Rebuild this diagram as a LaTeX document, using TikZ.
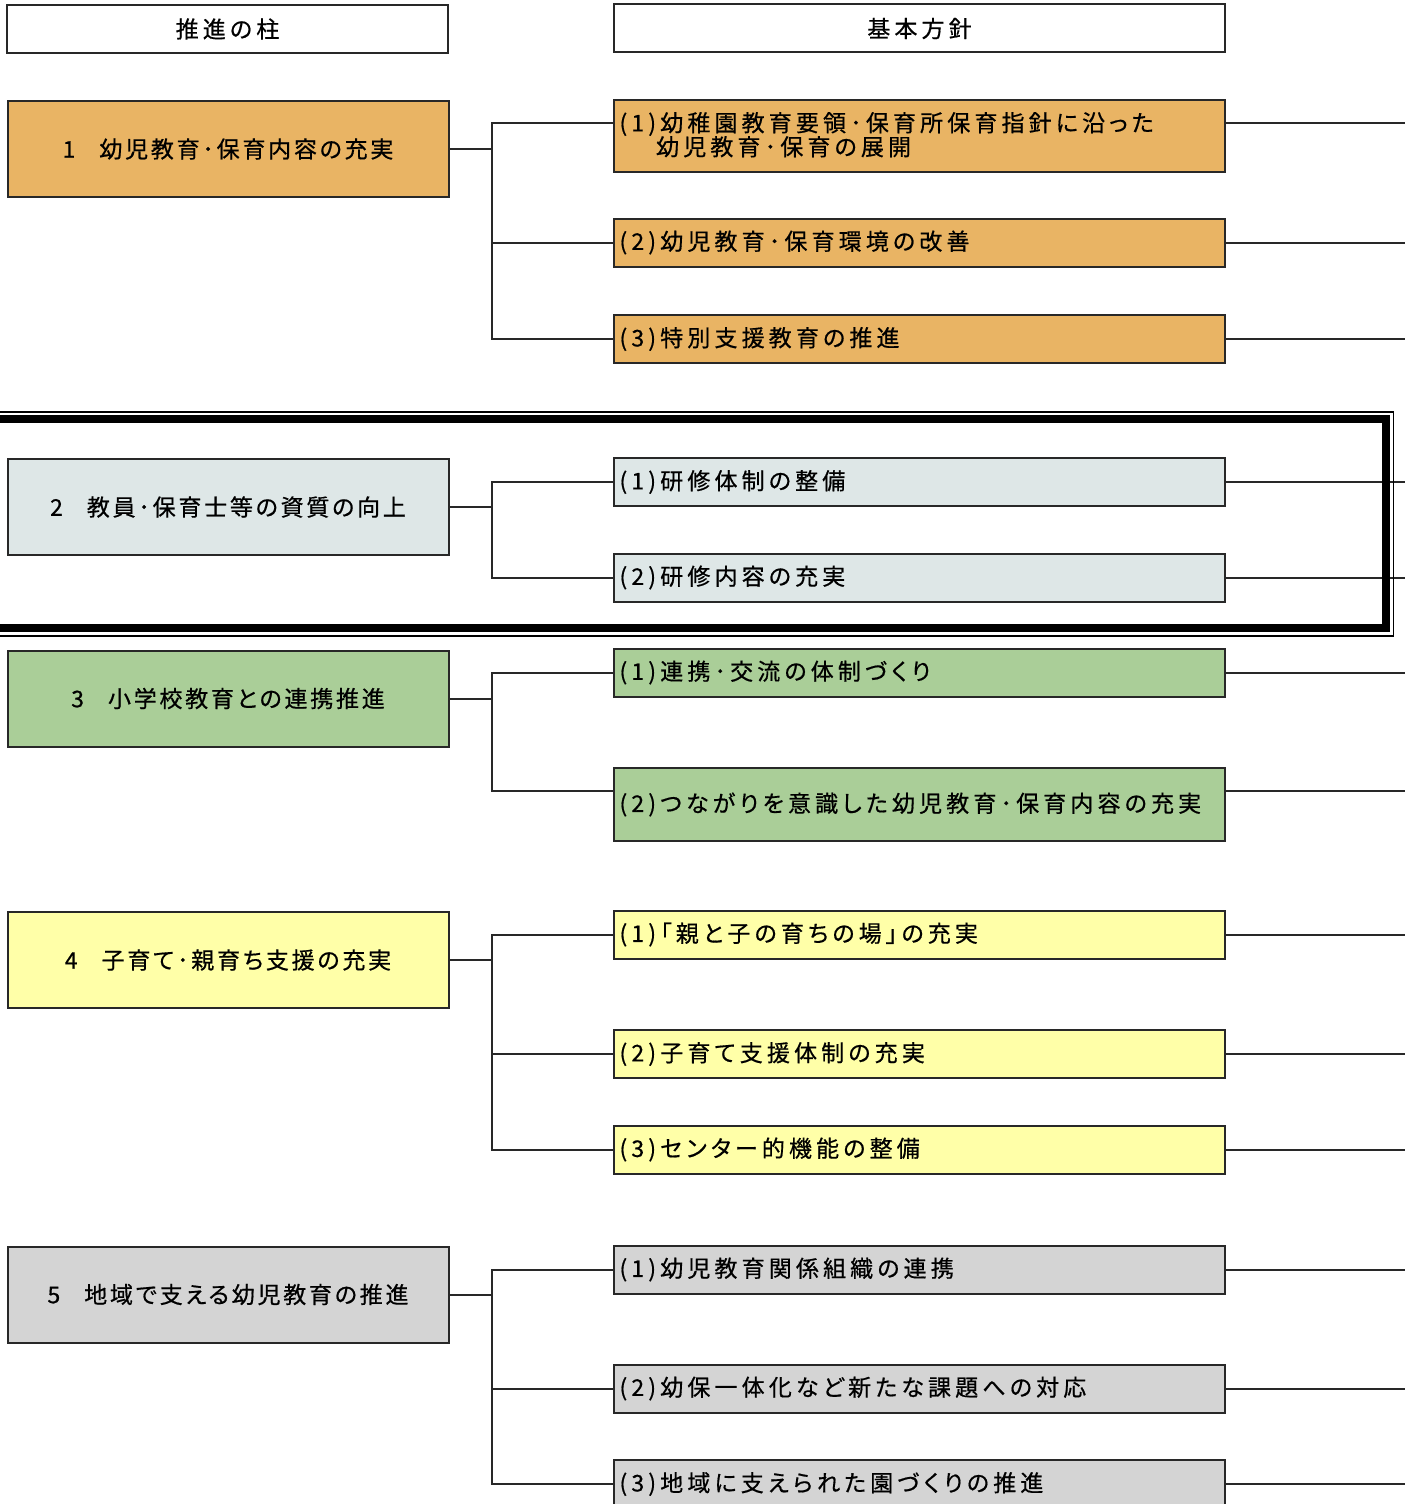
\documentclass[tikz,border=0pt]{standalone}
\usepackage{fontspec}
\setmainfont{Noto Sans CJK JP}[LetterSpace=18, RawFeature=+palt, FakeBold=0.6]
\newfontfamily\pillarfont{Noto Sans CJK JP}[LetterSpace=12, RawFeature=+palt, FakeBold=0.6]
\usetikzlibrary{calc, positioning}
\definecolor{boxline}{RGB}{40,40,40}
\definecolor{orangefill}{RGB}{233,180,100}
\definecolor{bluefill}{RGB}{222,231,231}
\definecolor{greenfill}{RGB}{170,206,152}
\definecolor{yellowfill}{RGB}{255,255,168}
\definecolor{grayfill}{RGB}{212,212,212}
\newcommand{\numgap}{\hspace{12pt}}
\tikzset{
    head_node/.style={rectangle, draw=boxline, line width=1pt, fill=white, minimum width=220.5pt, minimum height=24pt, text centered, align=center, inner sep=0pt, font=\fontsize{11.5pt}{12pt}\selectfont},
    pillar_node/.style={rectangle, draw=boxline, line width=1pt, minimum width=220.5pt, minimum height=48pt, text centered, align=center, inner sep=0pt, font=\pillarfont\fontsize{11.5pt}{12pt}\selectfont},
    policy_node/.style={rectangle, draw=boxline, line width=1pt, text width=300pt, minimum height=24pt, align=left, inner xsep=2.75pt, inner ysep=0pt, font=\fontsize{11.5pt}{12pt}\selectfont},
    line/.style={draw=boxline, line width=1pt},
    frame_thick/.style={draw=black, line width=3.6pt},
    frame_thin/.style={draw=black, line width=0.8pt},
}
\begin{document}
\begin{tikzpicture}[x=0.5pt, y=-0.5pt]
      \useasboundingbox (0,0) rectangle (1405,1504);
      \clip (0,0) rectangle (1405,1504);
      \coordinate (bus) at (492,0);
      \coordinate (edge) at (1405,0);

      %%%%%%%%%%%
      % Headers %
      %%%%%%%%%%%
      \node (head_pillar) [head_node] at (227.5,29) {推進の柱};
      \node (head_policy) [head_node, minimum width=305.5pt] at (919.5,28.5) {基本方針};

      %%%%%%%%%%%%
      % Pillar 1 %
      %%%%%%%%%%%%
      \node (pil1) [pillar_node, fill=orangefill] at (228,149)
          {1\numgap 幼児教育･保育内容の充実};
      \node (p11) [policy_node, fill=orangefill, minimum height=36pt] at (919.5,136)
          {(1)幼稚園教育要領･保育所保育指針に沿った\\\phantom{(1)}幼児教育･保育の展開};
      \node (p12) [policy_node, fill=orangefill] at (919.5,242.5)
          {(2)幼児教育･保育環境の改善};
      \node (p13) [policy_node, fill=orangefill] at (919.5,339)
          {(3)特別支援教育の推進};
      \coordinate (c11) at ($(p11.north west)+(0,24)$);

      \draw [line] (pil1.east) -- (pil1.east -| bus);
      \draw [line] (c11) -| (p13.west -| bus) -- (p13.west);
      \draw [line] (p12.west -| bus) -- (p12.west);
      \draw [line] (c11 -| p11.east) -- (c11 -| edge);
      \draw [line] (p12.east) -- (p12.east -| edge);
      \draw [line] (p13.east) -- (p13.east -| edge);

      %%%%%%%%%%%%
      % Pillar 2 %
      %%%%%%%%%%%%
      \node (pil2) [pillar_node, fill=bluefill] at (228,507)
          {2\numgap 教員･保育士等の資質の向上};
      \node (p21) [policy_node, fill=bluefill] at (919.5,482)
          {(1)研修体制の整備};
      \node (p22) [policy_node, fill=bluefill] at (919.5,577.5)
          {(2)研修内容の充実};

      \draw [line] (pil2.east) -- (pil2.east -| bus);
      \draw [line] (p21.west) -| (p22.west -| bus) -- (p22.west);
      \draw [line] (p21.east) -- (p21.east -| edge);
      \draw [line] (p22.east) -- (p22.east -| edge);

      % double frame round pillar 2
      \draw [frame_thin] (-10,412) -- (1393.5,412) -- (1393.5,636) -- (-10,636);
      \draw [frame_thick] (-10,419) -- (1386,419) -- (1386,628) -- (-10,628);

      %%%%%%%%%%%%
      % Pillar 3 %
      %%%%%%%%%%%%
      \node (pil3) [pillar_node, fill=greenfill] at (228,698.5)
          {3\numgap 小学校教育との連携推進};
      \node (p31) [policy_node, fill=greenfill] at (919.5,672.5)
          {(1)連携･交流の体制づくり};
      \node (p32) [policy_node, fill=greenfill, minimum height=36.5pt] at (919.5,804.5)
          {(2)つながりを意識した幼児教育･保育内容の充実};
      \coordinate (c32) at ($(p32.north west)+(0,24)$);

      \draw [line] (pil3.east) -- (pil3.east -| bus);
      \draw [line] (p31.west) -| (c32 -| bus) -- (c32);
      \draw [line] (p31.east) -- (p31.east -| edge);
      \draw [line] (c32 -| p32.east) -- (c32 -| edge);

      %%%%%%%%%%%%
      % Pillar 4 %
      %%%%%%%%%%%%
      \node (pil4) [pillar_node, fill=yellowfill] at (228,960)
          {4\numgap 子育て･親育ち支援の充実};
      \node (p41) [policy_node, fill=yellowfill] at (919.5,934.5)
          {(1)「親と子の育ちの場」の充実};
      \node (p42) [policy_node, fill=yellowfill] at (919.5,1054)
          {(2)子育て支援体制の充実};
      \node (p43) [policy_node, fill=yellowfill] at (919.5,1149.5)
          {(3)センター的機能の整備};

      \draw [line] (pil4.east) -- (pil4.east -| bus);
      \draw [line] (p41.west) -| (p43.west -| bus) -- (p43.west);
      \draw [line] (p42.west -| bus) -- (p42.west);
      \draw [line] (p41.east) -- (p41.east -| edge);
      \draw [line] (p42.east) -- (p42.east -| edge);
      \draw [line] (p43.east) -- (p43.east -| edge);

      %%%%%%%%%%%%
      % Pillar 5 %
      %%%%%%%%%%%%
      \node (pil5) [pillar_node, fill=grayfill] at (228,1294.5)
          {5\numgap 地域で支える幼児教育の推進};
      \node (p51) [policy_node, fill=grayfill] at (919.5,1269.5)
          {(1)幼児教育関係組織の連携};
      \node (p52) [policy_node, fill=grayfill] at (919.5,1388.5)
          {(2)幼保一体化など新たな課題への対応};
      \node (p53) [policy_node, fill=grayfill] at (919.5,1484)
          {(3)地域に支えられた園づくりの推進};

      \draw [line] (pil5.east) -- (pil5.east -| bus);
      \draw [line] (p51.west) -| (p53.west -| bus) -- (p53.west);
      \draw [line] (p52.west -| bus) -- (p52.west);
      \draw [line] (p51.east) -- (p51.east -| edge);
      \draw [line] (p52.east) -- (p52.east -| edge);
      \draw [line] (p53.east) -- (p53.east -| edge);

    \end{tikzpicture}
\end{document}
